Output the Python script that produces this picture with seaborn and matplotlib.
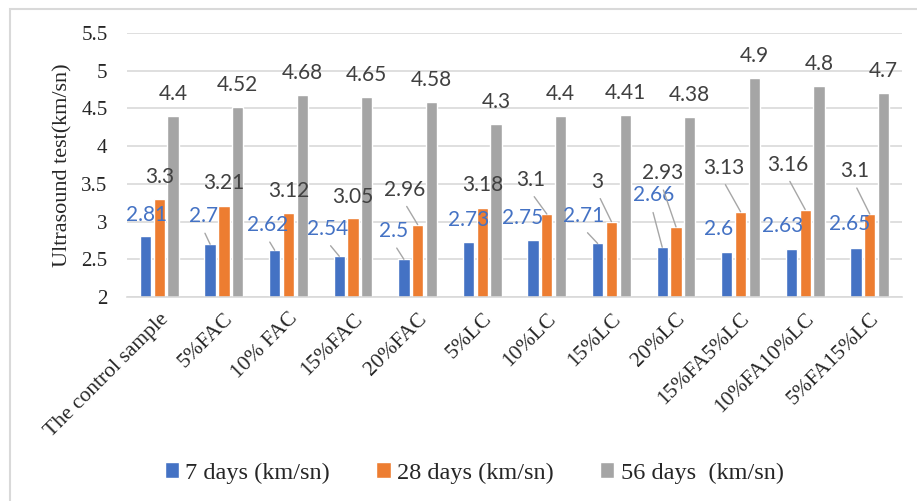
"""
Ultrasound test results (km/sn) at 7, 28 and 56 days
"""
import matplotlib
matplotlib.use('Agg')
import matplotlib.pyplot as plt
import seaborn as sns
import pandas as pd

# Data
categories = ['The control sample', '5%FAC', '10% FAC', '15%FAC', '20%FAC', '5%LC',
              '10%LC', '15%LC', '20%LC', '15%FA5%LC', '10%FA10%LC', '5%FA15%LC']
days_7 = [2.81, 2.7, 2.62, 2.54, 2.5, 2.73, 2.75, 2.71, 2.66, 2.6, 2.63, 2.65]
days_28 = [3.3, 3.21, 3.12, 3.05, 2.96, 3.18, 3.1, 3.0, 2.93, 3.13, 3.16, 3.1]
days_56 = [4.4, 4.52, 4.68, 4.65, 4.58, 4.3, 4.4, 4.41, 4.38, 4.9, 4.8, 4.7]
series_names = ['7 days (km/sn)', '28 days (km/sn)', '56 days  (km/sn)']

# Label placement (pixels from bar top: dx, dy) and whether a leader line is drawn
offsets_7 = [(1, 21), (-7, 28), (-7, 25), (-12, 27), (-10, 28), (0, 22),
             (-10, 22), (-14, 27), (-9, 52), (-8, 23), (-9, 23), (-6, 24)]
leader_7 = [False, True, True, True, True, False, False, True, True, False, False, False]
offsets_28 = [(0, 22), (0, 23), (0, 22), (0, 21), (-13, 35), (0, 23),
              (-16, 34), (-14, 40), (-13, 54), (-17, 44), (-17, 45), (-15, 43)]
leader_28 = [False, False, False, False, True, False, True, True, True, True, True, True]
offsets_56 = [(0, 22)] * 12
leader_56 = [False] * 12

colors = ['#4472C4', '#ED7D31', '#A5A5A5']
label_colors = ['#4472C4', '#404040', '#404040']

df = pd.DataFrame({'Sample': categories, series_names[0]: days_7,
                   series_names[1]: days_28, series_names[2]: days_56})
df_long = df.melt(id_vars='Sample', var_name='Series', value_name='Value')

sns.set_style("white")
serif = ['Liberation Serif', 'DejaVu Serif']
label_font = ['Lato', 'DejaVu Sans']

fig = plt.figure(figsize=(9.17, 5.01), dpi=100)
ax = fig.add_axes([0.1385, 0.4072, 0.8452, 0.5269])

sns.barplot(data=df_long, x='Sample', y='Value', hue='Series', palette=colors,
            width=0.64, gap=0.18, ax=ax, saturation=1, legend=True)

ax.set_ylim(2, 5.5)
ax.set_yticks([2, 2.5, 3, 3.5, 4, 4.5, 5, 5.5])
ax.set_yticklabels(['2', '2.5', '3', '3.5', '4', '4.5', '5', '5.5'],
                   family=serif, fontsize=15)
ax.set_xlim(-0.5, len(categories) - 0.5)
ax.set_xticks(range(len(categories)))
ax.set_xticklabels(categories, rotation=45, ha='right', rotation_mode='anchor',
                   family=serif, fontsize=15.5)
ax.tick_params(axis='both', length=0)
ax.tick_params(axis='x', pad=9)
ax.tick_params(axis='y', pad=14)
ax.set_xlabel('')
ax.set_ylabel('Ultrasound test(km/sn)', family=serif, fontsize=16, labelpad=6)

# Grid
ax.yaxis.grid(True, color='#D9D9D9', lw=1.2)
ax.set_axisbelow(True)
for side in ['top', 'right', 'left']:
    ax.spines[side].set_visible(False)
ax.spines['bottom'].set_color('#D9D9D9')
ax.spines['bottom'].set_linewidth(1.2)

# Data labels
all_offsets = [offsets_7, offsets_28, offsets_56]
all_leaders = [leader_7, leader_28, leader_56]
for s, container in enumerate(ax.containers):
    for i, bar in enumerate(container):
        x = bar.get_x() + bar.get_width() / 2
        h = bar.get_height()
        dx, dy = all_offsets[s][i]
        arrow = None
        if all_leaders[s][i]:
            arrow = dict(arrowstyle='-', color='#A6A6A6', lw=1.0,
                         shrinkA=3, shrinkB=0, relpos=(0.45, 0.0))
        ax.annotate(f'{h:g}', xy=(x, h), xytext=(dx, dy), textcoords='offset pixels',
                    ha='center', va='center', fontsize=15, family=label_font,
                    color=label_colors[s], arrowprops=arrow, annotation_clip=False)

# Legend
handles, labels = ax.get_legend_handles_labels()
ax.legend_.remove()
fig.legend(handles, labels, loc='center', bbox_to_anchor=(0.517, 0.056), ncol=3,
           frameon=False, prop={'family': serif, 'size': 17.5},
           handlelength=0.6, handleheight=0.6, handletextpad=0.25, columnspacing=1.9)

# Chart frame
frame = plt.Rectangle((10 / 917, -0.1), 1.2, 1.1 - 9 / 501, transform=fig.transFigure,
                      fill=False, edgecolor='#D9D9D9', lw=1.5)
fig.add_artist(frame)

plt.savefig('out.png', dpi=100)
plt.close()
